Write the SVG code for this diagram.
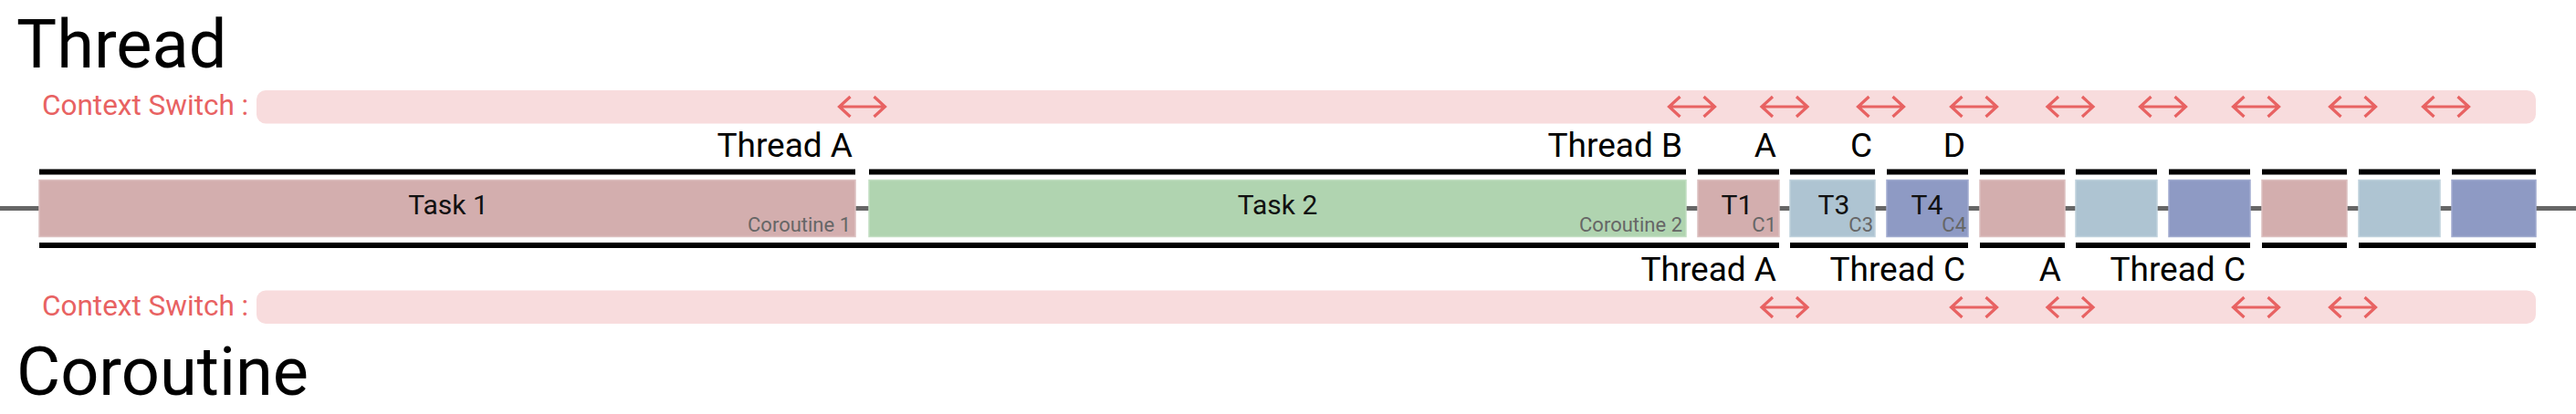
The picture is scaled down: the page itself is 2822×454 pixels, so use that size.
<svg xmlns="http://www.w3.org/2000/svg" xmlns:xlink="http://www.w3.org/1999/xlink" width="2822" height="454" viewBox="0 0 2822 454">
<style>
  text { font-family: Roboto, "Liberation Sans", sans-serif; }
  .title { font-size: 74px; fill: #000; }
  .cs { font-size: 31.5px; fill: #e86262; }
  .band { fill: #f8dcdd; }
  .lbl { font-size: 37px; fill: #000; text-anchor: end; }
  .main { font-size: 30px; fill: #111; text-anchor: middle; }
  .sub { font-size: 22px; fill: #666; text-anchor: end; }
  .bar { fill: #000; }
  .box { stroke-width: 1.5; }
  .pink { fill: #d3aeae; stroke: #dcc0c0; }
  .green { fill: #b0d4b0; stroke: #c2dec2; }
  .lblue { fill: #aec4d2; stroke: #bfd1dc; }
  .blue { fill: #8e9ac4; stroke: #a1abcf; }
  .arr { fill: none; stroke: #e86262; stroke-width: 3.2; stroke-linejoin: miter; }
</style>
<defs>
  <g id="arrow">
    <path class="arr" d="M-25,0 H25 M13,-11 L25,0 L13,11 M-13,-11 L-25,0 L-13,11"/>
  </g>
</defs>

<text class="title" x="18" y="74">Thread</text>
<text class="title" x="18" y="433">Coroutine</text>

<g id="thread-switch">
  <text class="cs" x="46" y="126">Context Switch :</text>
  <rect class="band" x="281" y="99" width="2497" height="36.5" rx="10"/>
</g>
<g id="coroutine-switch">
  <text class="cs" x="46" y="345.5">Context Switch :</text>
  <rect class="band" x="281" y="318.5" width="2497" height="36.5" rx="10"/>
</g>

<g id="connectors">
  <rect x="0" y="226" width="2822" height="5" fill="#666"/>
  <g id="thread-arrows">
    <use xlink:href="#arrow" x="944.5" y="117"/>
    <use xlink:href="#arrow" x="1853.5" y="117"/>
    <use xlink:href="#arrow" x="1955" y="117"/>
    <use xlink:href="#arrow" x="2060.5" y="117"/>
    <use xlink:href="#arrow" x="2162.5" y="117"/>
    <use xlink:href="#arrow" x="2268" y="117"/>
    <use xlink:href="#arrow" x="2369.5" y="117"/>
    <use xlink:href="#arrow" x="2471.5" y="117"/>
    <use xlink:href="#arrow" x="2577.5" y="117"/>
    <use xlink:href="#arrow" x="2679.5" y="117"/>
  </g>
  <g id="coroutine-arrows">
    <use xlink:href="#arrow" x="1955" y="337"/>
    <use xlink:href="#arrow" x="2162.5" y="337"/>
    <use xlink:href="#arrow" x="2268" y="337"/>
    <use xlink:href="#arrow" x="2471.5" y="337"/>
    <use xlink:href="#arrow" x="2577.5" y="337"/>
  </g>
</g>

<g id="thread-bars">
  <rect class="bar" x="43" y="185.5" width="894" height="6"/>
  <rect class="bar" x="952" y="185.5" width="895" height="6"/>
  <rect class="bar" x="1860" y="185.5" width="89" height="6"/>
  <rect class="bar" x="1961" y="185.5" width="93" height="6"/>
  <rect class="bar" x="2067" y="185.5" width="89" height="6"/>
  <rect class="bar" x="2169" y="185.5" width="93" height="6"/>
  <rect class="bar" x="2274" y="185.5" width="89" height="6"/>
  <rect class="bar" x="2376" y="185.5" width="89" height="6"/>
  <rect class="bar" x="2478" y="185.5" width="93" height="6"/>
  <rect class="bar" x="2584" y="185.5" width="89" height="6"/>
  <rect class="bar" x="2686" y="185.5" width="92" height="6"/>
  <text class="lbl" x="934" y="172">Thread A</text>
  <text class="lbl" x="1843" y="172">Thread B</text>
  <text class="lbl" x="1946" y="172">A</text>
  <text class="lbl" x="2051" y="172">C</text>
  <text class="lbl" x="2153" y="172">D</text>
</g>

<g id="coroutine-bars">
  <rect class="bar" x="43" y="266" width="1906" height="6"/>
  <rect class="bar" x="1961" y="266" width="195" height="6"/>
  <rect class="bar" x="2169" y="266" width="93" height="6"/>
  <rect class="bar" x="2274" y="266" width="191" height="6"/>
  <rect class="bar" x="2478" y="266" width="93" height="6"/>
  <rect class="bar" x="2584" y="266" width="194" height="6"/>
  <text class="lbl" x="1946" y="308">Thread A</text>
  <text class="lbl" x="2153" y="308">Thread C</text>
  <text class="lbl" x="2258" y="308">A</text>
  <text class="lbl" x="2460" y="308">Thread C</text>
</g>

<g id="task1">
  <rect class="box pink" x="43" y="197.5" width="894" height="62"/>
  <text class="main" x="491" y="234.5">Task 1</text>
  <text class="sub" x="932" y="253.5">Coroutine 1</text>
</g>
<g id="task2">
  <rect class="box green" x="952" y="197.5" width="895" height="62"/>
  <text class="main" x="1399.5" y="234.5">Task 2</text>
  <text class="sub" x="1843" y="253.5">Coroutine 2</text>
</g>
<g id="t1">
  <rect class="box pink" x="1860" y="197.5" width="89" height="62"/>
  <text class="main" x="1903" y="234.5">T1</text>
  <text class="sub" x="1946" y="253.5">C1</text>
</g>
<g id="t3">
  <rect class="box lblue" x="1961" y="197.5" width="93" height="62"/>
  <text class="main" x="2009" y="234.5">T3</text>
  <text class="sub" x="2052" y="253.5">C3</text>
</g>
<g id="t4">
  <rect class="box blue" x="2067" y="197.5" width="89" height="62"/>
  <text class="main" x="2111" y="234.5">T4</text>
  <text class="sub" x="2154" y="253.5">C4</text>
</g>
<g id="slot6"><rect class="box pink" x="2169" y="197.5" width="93" height="62"/></g>
<g id="slot7"><rect class="box lblue" x="2274" y="197.5" width="89" height="62"/></g>
<g id="slot8"><rect class="box blue" x="2376" y="197.5" width="89" height="62"/></g>
<g id="slot9"><rect class="box pink" x="2478" y="197.5" width="93" height="62"/></g>
<g id="slot10"><rect class="box lblue" x="2584" y="197.5" width="89" height="62"/></g>
<g id="slot11"><rect class="box blue" x="2686" y="197.5" width="92" height="62"/></g>
</svg>
